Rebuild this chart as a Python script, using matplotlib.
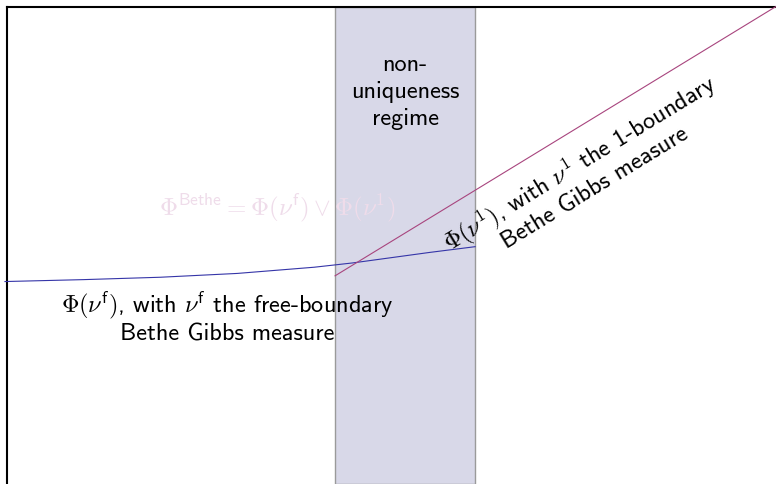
import matplotlib
matplotlib.use("Agg")
import matplotlib.pyplot as plt

plt.rcParams["font.family"] = ["cmss10", "DejaVu Sans"]
plt.rcParams["mathtext.fontset"] = "cm"
plt.rcParams["axes.unicode_minus"] = False

# Inverse temperature axis (arbitrary units) and free-energy values
beta_free = [-0.02, 1.0, 2.0, 3.0, 4.0, 4.5, 5.0, 5.5, 6.09]
phi_free = [4.24, 4.28, 4.33, 4.41, 4.54, 4.63, 4.74, 4.85, 4.97]

beta_one = [4.27, 10.0]
phi_one = [4.36, 10.0]

# Non-uniqueness window
beta_u = 4.27
beta_c = 6.09

fig = plt.figure(figsize=(7.76, 4.84), dpi=100)
ax = fig.add_axes([6.5 / 776, 0.0, 1 - 6.5 / 776, 1 - 6.5 / 484])
ax.set_xlim(0, 10)
ax.set_ylim(0, 10)
ax.set_xticks([])
ax.set_yticks([])
for side in ("right", "bottom"):
    ax.spines[side].set_visible(False)
for side in ("left", "top"):
    ax.spines[side].set_linewidth(1.5)
    ax.spines[side].set_color("black")
    ax.spines[side].set_zorder(1)

ax.axvspan(beta_u, beta_c, facecolor="#d8d8e8", edgecolor="#9a9a9a",
           linewidth=1.0, zorder=0.5)

ax.plot(beta_free, phi_free, color="#3535a8", linewidth=0.8, zorder=3,
        clip_on=False)
ax.plot(beta_one, phi_one, color="#a8457e", linewidth=0.8, zorder=3,
        clip_on=False)

fs = 17.5
ax.text((beta_u + beta_c) / 2, 8.21, "non-\nuniqueness\nregime",
        ha="center", va="center", multialignment="center",
        fontsize=fs, linespacing=1.27, zorder=4)

ax.text(2.87, 3.49,
        r"$\mathsf{\Phi}(\nu^{\mathsf{f}})$, with $\nu^{\mathsf{f}}$ the free-boundary"
        "\nBethe Gibbs measure",
        ha="center", va="center", multialignment="center",
        fontsize=fs, linespacing=1.18, zorder=4)

ax.text(7.53, 6.49,
        r"$\mathsf{\Phi}(\nu^{1})$, with $\nu^{1}$ the 1-boundary"
        "\nBethe Gibbs measure",
        ha="center", va="center", multialignment="center",
        rotation=31.4, rotation_mode="anchor",
        fontsize=fs, linespacing=1.12, zorder=4)

ax.text(3.52, 5.78,
        r"$\mathbf{\Phi}^{\mathsf{Bethe}} = \mathsf{\Phi}(\nu^{\mathsf{f}}) \vee \mathsf{\Phi}(\nu^{1})$",
        ha="center", va="center", color="#efdcea", fontsize=18, zorder=4)

fig.savefig("out.png", dpi=100)
